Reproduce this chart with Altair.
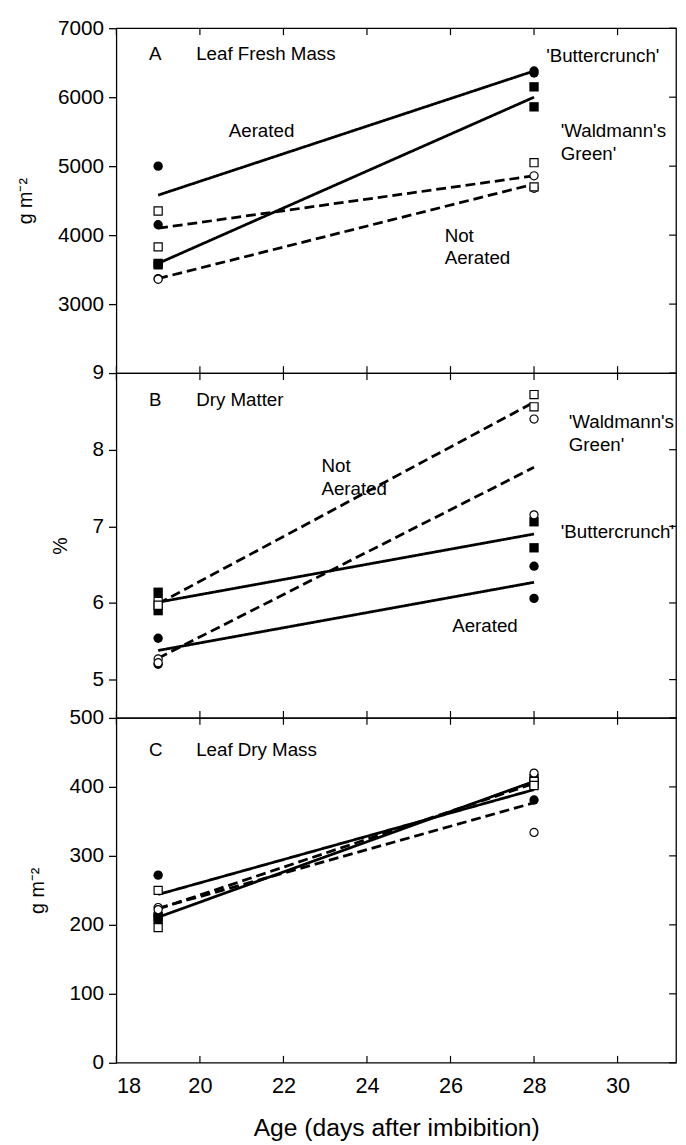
import altair as alt
import pandas as pd

# ---------------- data ----------------
X_TICKS = [18, 20, 22, 24, 26, 28, 30]
X_DOMAIN = [18, 31.4]
FIT_DAYS = [19, 28]
VARIETIES = ["Buttercrunch", "Waldmann's Green"]
TREATMENTS = ["Aerated", "Not aerated"]

# Panel A - Leaf fresh mass (g m-2): [day, value]
FRESH_Y_DOMAIN = [2000, 7000]
FRESH_Y_TICKS = [3000, 4000, 5000, 6000, 7000]
FRESH_BUTTER_AER = [[19, 5000], [19, 4150], [28, 6380], [28, 6350]]
FRESH_WALD_AER = [[19, 3590], [19, 3570], [28, 6150], [28, 5860]]
FRESH_BUTTER_NOT = [[19, 3370], [19, 3360], [28, 4860], [28, 4680]]
FRESH_WALD_NOT = [[19, 4350], [19, 3830], [28, 5050], [28, 4700]]
FRESH_FIT_BUTTER_AER = [4580, 6380]
FRESH_FIT_WALD_AER = [3590, 6000]
FRESH_FIT_BUTTER_NOT = [3370, 4740]
FRESH_FIT_WALD_NOT = [4100, 4860]

# Panel B - Dry matter (%)
DRY_Y_DOMAIN = [4.5, 9]
DRY_Y_TICKS = [5, 6, 7, 8, 9]
DRY_BUTTER_AER = [[19, 5.54], [19, 5.20], [28, 6.48], [28, 6.06]]
DRY_WALD_AER = [[19, 6.14], [19, 5.90], [28, 7.06], [28, 6.72]]
DRY_BUTTER_NOT = [[19, 5.27], [19, 5.22], [28, 8.40], [28, 7.15]]
DRY_WALD_NOT = [[19, 6.02], [19, 5.97], [28, 8.72], [28, 8.56]]
DRY_FIT_BUTTER_AER = [5.38, 6.27]
DRY_FIT_WALD_AER = [6.01, 6.90]
DRY_FIT_BUTTER_NOT = [5.28, 7.77]
DRY_FIT_WALD_NOT = [5.99, 8.62]

# Panel C - Leaf dry mass (g m-2)
DM_Y_DOMAIN = [0, 500]
DM_Y_TICKS = [0, 100, 200, 300, 400, 500]
DM_BUTTER_AER = [[19, 272], [19, 215], [28, 381], [28, 410]]
DM_WALD_AER = [[19, 212], [19, 208], [28, 412], [28, 404]]
DM_BUTTER_NOT = [[19, 225], [19, 222], [28, 420], [28, 334]]
DM_WALD_NOT = [[19, 250], [19, 196], [28, 408], [28, 402]]
DM_FIT_BUTTER_AER = [244, 396]
DM_FIT_WALD_AER = [211, 408]
DM_FIT_BUTTER_NOT = [224, 377]
DM_FIT_WALD_NOT = [223, 405]

# Annotations: [day, value, text]
FRESH_NOTES = [
    [18.78, 6624, "A"], [19.91, 6624, "Leaf Fresh Mass"],
    [28.29, 6595, "'Buttercrunch'"], [20.69, 5512, "Aerated"],
    [28.64, 5512, "'Waldmann's"], [28.64, 5179, "Green'"],
    [25.86, 3980, "Not"], [25.86, 3662, "Aerated"],
]
DRY_NOTES = [
    [18.78, 8.65, "B"], [19.91, 8.65, "Dry Matter"],
    [28.83, 8.36, "'Waldmann's"], [28.83, 8.06, "Green'"],
    [22.91, 7.78, "Not"], [22.91, 7.48, "Aerated"],
    [28.64, 6.93, "'Buttercrunch'"], [26.04, 5.70, "Aerated"],
]
DM_NOTES = [
    [18.78, 454, "C"], [19.91, 454, "Leaf Dry Mass"],
]

# ---------------- chart ----------------
W, H = 568, 350
FONT = "Liberation Sans"
TICK_LEN = 7


def build_points(ba, wa, bn, wn):
    rows = []
    for pts, var, trt in [(ba, VARIETIES[0], TREATMENTS[0]), (wa, VARIETIES[1], TREATMENTS[0]),
                          (bn, VARIETIES[0], TREATMENTS[1]), (wn, VARIETIES[1], TREATMENTS[1])]:
        for d, v in pts:
            rows.append({"day": d, "value": v, "variety": var, "treatment": trt})
    return pd.DataFrame(rows)


def build_fits(ba, wa, bn, wn):
    rows = []
    for vals, var, trt in [(ba, VARIETIES[0], TREATMENTS[0]), (wa, VARIETIES[1], TREATMENTS[0]),
                           (bn, VARIETIES[0], TREATMENTS[1]), (wn, VARIETIES[1], TREATMENTS[1])]:
        for d, v in zip(FIT_DAYS, vals):
            rows.append({"day": d, "value": v, "variety": var, "treatment": trt,
                         "key": var + " " + trt})
    return pd.DataFrame(rows)


def panel(pts, fits, notes, ydom, yticks, ytitle, bottom):
    xs = alt.Scale(domain=X_DOMAIN, nice=False, zero=False)
    ys = alt.Scale(domain=ydom, nice=False, zero=False)

    if bottom:
        x_axis = alt.Axis(orient="bottom", values=X_TICKS, ticks=False, domain=False,
                          labelPadding=13, labelFontSize=22, format="d",
                          title="Age (days after imbibition)", titleFontSize=25,
                          titlePadding=20, grid=False)
    else:
        x_axis = alt.Axis(orient="bottom", values=X_TICKS, ticks=False, domain=False,
                          labels=False, title=None, grid=False)
    y_axis = alt.Axis(orient="left", values=yticks, tickSize=8, labelPadding=5,
                      labelFontSize=21, format="d" if ydom[1] > 100 else "~g",
                      domain=False, title=ytitle, titleFontSize=20, titlePadding=22,
                      grid=False)

    fit_layer = alt.Chart(fits).mark_line(color="black", strokeWidth=2.8).encode(
        x=alt.X("day:Q", scale=xs, axis=x_axis),
        y=alt.Y("value:Q", scale=ys, axis=y_axis),
        strokeDash=alt.StrokeDash("treatment:N",
                                  scale=alt.Scale(domain=TREATMENTS, range=[[1, 0], [10, 5]]),
                                  legend=None),
        detail="key:N",
    )
    shape_scale = alt.Scale(domain=VARIETIES, range=["circle", "square"])
    filled_layer = alt.Chart(pts).transform_filter(
        alt.datum.treatment == TREATMENTS[0]
    ).mark_point(filled=True, color="black", size=90, opacity=1).encode(
        x=alt.X("day:Q", scale=xs, axis=None),
        y=alt.Y("value:Q", scale=ys, axis=None),
        shape=alt.Shape("variety:N", scale=shape_scale, legend=None),
    )
    open_layer = alt.Chart(pts).transform_filter(
        alt.datum.treatment == TREATMENTS[1]
    ).mark_point(filled=False, fill="white", fillOpacity=1, stroke="black",
                 strokeWidth=1.2, size=68, opacity=1).encode(
        x=alt.X("day:Q", scale=xs, axis=None),
        y=alt.Y("value:Q", scale=ys, axis=None),
        shape=alt.Shape("variety:N", scale=shape_scale, legend=None),
    )
    note_layer = alt.Chart(notes).mark_text(
        align="left", baseline="middle", fontSize=19, font=FONT, color="black"
    ).encode(
        x=alt.X("day:Q", scale=xs, axis=None),
        y=alt.Y("value:Q", scale=ys, axis=None),
        text="text:N",
    )
    xt = pd.DataFrame({"tick": X_TICKS})
    yt = pd.DataFrame({"tick": yticks})
    top_ticks = alt.Chart(xt).mark_rule(color="black", strokeWidth=1.2).encode(
        x=alt.X("tick:Q", scale=xs, axis=None),
        y=alt.value(0), y2=alt.value(TICK_LEN),
    )
    bottom_ticks = alt.Chart(xt).mark_rule(color="black", strokeWidth=1.2).encode(
        x=alt.X("tick:Q", scale=xs, axis=None),
        y=alt.value(H - TICK_LEN), y2=alt.value(H),
    )
    right_ticks = alt.Chart(yt).mark_rule(color="black", strokeWidth=1.2).encode(
        y=alt.Y("tick:Q", scale=ys, axis=None),
        x=alt.value(W - TICK_LEN), x2=alt.value(W),
    )
    return alt.layer(fit_layer, filled_layer, open_layer, note_layer,
                     top_ticks, bottom_ticks, right_ticks).resolve_axis(
        x="independent", y="independent"
    ).properties(width=W, height=H)


panel_a = panel(
    build_points(FRESH_BUTTER_AER, FRESH_WALD_AER, FRESH_BUTTER_NOT, FRESH_WALD_NOT),
    build_fits(FRESH_FIT_BUTTER_AER, FRESH_FIT_WALD_AER, FRESH_FIT_BUTTER_NOT, FRESH_FIT_WALD_NOT),
    pd.DataFrame(FRESH_NOTES, columns=["day", "value", "text"]),
    FRESH_Y_DOMAIN, FRESH_Y_TICKS, "g m\u207b\u00b2", False)
panel_b = panel(
    build_points(DRY_BUTTER_AER, DRY_WALD_AER, DRY_BUTTER_NOT, DRY_WALD_NOT),
    build_fits(DRY_FIT_BUTTER_AER, DRY_FIT_WALD_AER, DRY_FIT_BUTTER_NOT, DRY_FIT_WALD_NOT),
    pd.DataFrame(DRY_NOTES, columns=["day", "value", "text"]),
    DRY_Y_DOMAIN, DRY_Y_TICKS, "%", False)
panel_c = panel(
    build_points(DM_BUTTER_AER, DM_WALD_AER, DM_BUTTER_NOT, DM_WALD_NOT),
    build_fits(DM_FIT_BUTTER_AER, DM_FIT_WALD_AER, DM_FIT_BUTTER_NOT, DM_FIT_WALD_NOT),
    pd.DataFrame(DM_NOTES, columns=["day", "value", "text"]),
    DM_Y_DOMAIN, DM_Y_TICKS, "g m\u207b\u00b2", True)

chart = alt.VConcatChart(
    vconcat=[panel_a, panel_b, panel_c], spacing=0, bounds="flush"
).properties(
    padding={"left": 7, "top": 0, "right": 0, "bottom": 0}, background="white"
).configure_view(
    stroke="black", strokeWidth=1.3
).configure_axis(
    labelFont=FONT, titleFont=FONT,
    labelColor="black", titleColor="black", tickColor="black", tickWidth=1.3,
    titleFontWeight="normal", grid=False,
)

chart.save("out.html", embed_options={"renderer": "svg", "actions": False})
